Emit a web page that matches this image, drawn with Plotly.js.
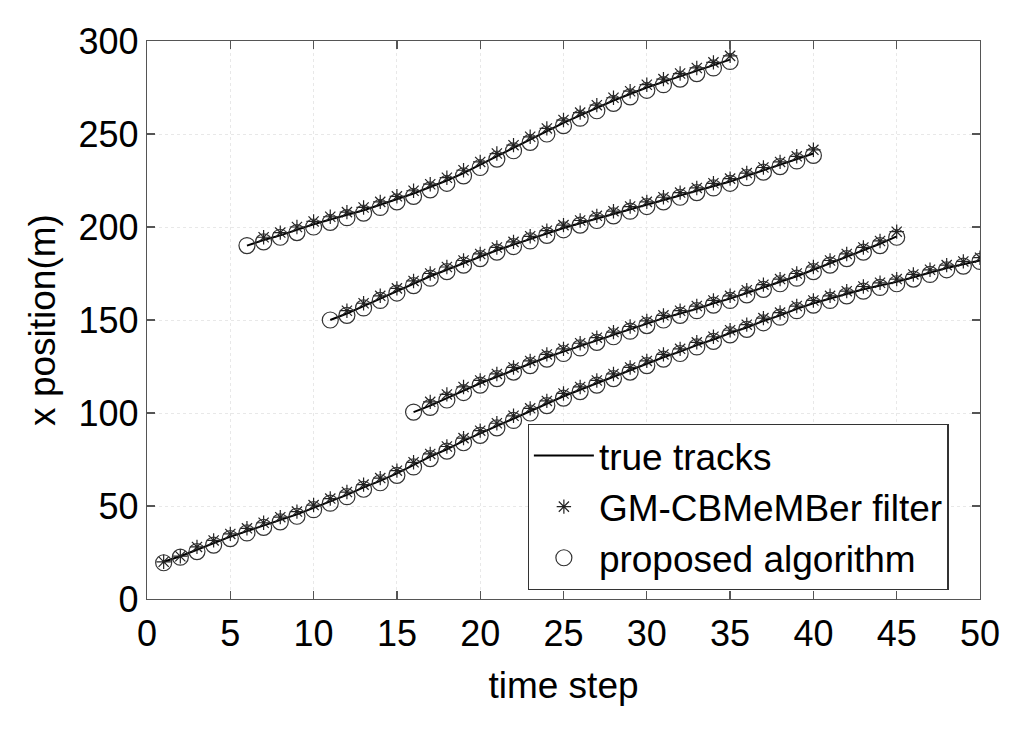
<!DOCTYPE html>
<html>
<head>
<meta charset="utf-8">
<script src="https://cdn.plot.ly/plotly-3.0.1.min.js"></script>
<style>html,body{margin:0;padding:0;background:#fff;}#chart{width:1024px;height:730px;}</style>
</head>
<body>
<div id="chart"></div>
<script>
// Track start times
const startA = 6, startB = 11, startC = 16, startD = 1;

// True tracks
const trueA = [190,193,195.5,198.5,201.5,204,206.5,209,212,215,218,221.5,225,229,233.5,238,242.5,247,251.5,256,260,264,268,271.5,275,278,281,284,287,290];
const trueB = [150,153.5,157.5,161.5,165.5,169.5,173.5,177,180.5,184,187.5,190.5,193.5,196.5,199.5,202,204.5,207,209.5,212,214.5,217,219.5,222,224.5,227.5,230.5,233.5,236.5,239.5];
const trueC = [100.5,104,108,112,116,119.5,123,126.5,130,133,136,139,142,145,148,151,153.5,156,159,161.5,164.5,167.5,170.5,173.5,177,180.5,184,187.5,191,195];
const trueD = [20,23,26.5,30,33.5,36.5,39.5,42.5,45.5,49,52.5,56,60,63.5,67.5,72,76.5,80.5,85,89,93,97,101,105,109,112.5,116,119.5,123,126.5,130,133,136.5,139.5,143,146,149.5,152.5,156,159,161.5,164,166.5,168.5,170.5,173,175.5,178,180,182];

// GM-CBMeMBer filter estimates (A, B, C start one step after track birth)
const starStartA = 7, starStartB = 12, starStartC = 17, starStartD = 1;
const starA = [194.5,197,200,203,205.5,208,210.5,213.5,216.5,219.5,223,226.5,230.5,235,239.5,244,248.5,253,257.5,261.5,265.5,269.5,273,276.5,279.5,282.5,285.5,288.5,292];
const starB = [155,159,163,167,171,175,178.5,182,185.5,189,192,195,198,201,203.5,206,208.5,211,213.5,216,218.5,221,223.5,226,229,232,235,238,241.5];
const starC = [106,110,114,117.5,121,124.5,128,131.5,134.5,137.5,140.5,143.5,146.5,149.5,152.5,155,157.5,160.5,163,166,169,172,175,178.5,182,185.5,189,192.5,197.5];
const starD = [20,23,28,31.5,35,38,41,44,47,50.5,54,57.5,61.5,65,69,73.5,78,82,86.5,90.5,94.5,98.5,102.5,106.5,110.5,114,117.5,121,124.5,128,131.5,134.5,138,141,144.5,147.5,151,154,157.5,160.5,163,165.5,168,170,172,174.5,177,179.5,181.5,183.5];

// Proposed algorithm estimates
const circA = [190,192,194.5,197,200,202.5,205,207.5,210.5,213.5,216.5,220,223.5,227.5,232,236.5,241,245.5,250,254.5,258.5,262.5,266.5,270,273.5,276.5,279.5,282.5,285.5,289];
const circB = [150,152.5,156.5,160.5,164.5,168.5,172.5,176,179.5,183,186.5,189.5,192.5,195.5,198.5,201,203.5,206,208.5,211,213.5,216,218.5,221,223.5,226.5,229.5,232.5,235.5,238.5];
const circC = [100.5,103,107,111,115,118.5,122,125.5,129,132,135,138,141,144,147,150,152.5,155,158,160.5,163.5,166.5,169.5,172.5,176,179.5,183,186.5,190,194.5];
const circD = [19.5,22.5,25.5,29,32.5,35.5,38.5,41.5,44.5,48,51.5,55,59,62.5,66.5,71,75.5,79.5,84,88,92,96,100,104,108,111.5,115,118.5,122,125.5,129,132,135.5,138.5,142,145,148.5,151.5,155,158,160.5,163,165.5,167.5,169.5,172,174.5,177,179,181.5];

const xTicks = [0,5,10,15,20,25,30,35,40,45,50];
const yTicks = [0,50,100,150,200,250,300];
const names = ['true tracks','GM-CBMeMBer filter','proposed algorithm'];

function join(list) {
  const x = [], y = [];
  list.forEach(([s, vals], i) => {
    if (i > 0) { x.push(null); y.push(null); }
    vals.forEach((v, k) => { x.push(s + k); y.push(v); });
  });
  return {x, y};
}

const T = join([[startA,trueA],[startB,trueB],[startC,trueC],[startD,trueD]]);
const S = join([[starStartA,starA],[starStartB,starB],[starStartC,starC],[starStartD,starD]]);
const C = join([[startA,circA],[startB,circB],[startC,circC],[startD,circD]]);

const FONT = 'Liberation Sans, Arial, sans-serif';

const traces = [
  {x:T.x, y:T.y, mode:'lines', name:names[0], connectgaps:false,
   line:{color:'#000', width:2}},
  {x:S.x, y:S.y, mode:'markers', name:names[1],
   marker:{symbol:'asterisk-open', size:12, line:{color:'#222', width:1.2}, color:'#222'}},
  {x:C.x, y:C.y, mode:'markers', name:names[2],
   marker:{symbol:'circle-open', size:16, line:{color:'#333', width:1.2}, color:'#333'}}
];

const axisCommon = {
  showline:true, linecolor:'#555', linewidth:1.3, mirror:'ticks',
  ticks:'inside', ticklen:8, tickcolor:'#555', tickwidth:1.3,
  showgrid:true, gridcolor:'#e8e8e8', griddash:'dot', gridwidth:1,
  zeroline:false, tickfont:{size:36, color:'#000', family:FONT}
};

const layout = {
  width:1024, height:730,
  margin:{l:147, r:44, t:41, b:131},
  paper_bgcolor:'#fff', plot_bgcolor:'#fff',
  font:{family:FONT, color:'#000'},
  showlegend:true,
  xaxis:Object.assign({}, axisCommon, {range:[0,50], tickvals:xTicks, ticktext:xTicks.map(String),
    ticklabelstandoff:2,
    title:{text:'time step', font:{size:37}, standoff:19}}),
  yaxis:Object.assign({}, axisCommon, {range:[0,300], tickvals:yTicks, ticktext:yTicks.map(String),
    title:{text:'x position(m)', font:{size:37}, standoff:11}}),
  legend:{x:0.457, y:0.314, xanchor:'left', yanchor:'top', bgcolor:'#fff',
    bordercolor:'#333', borderwidth:1.2, font:{size:37, color:'#000', family:FONT}, itemwidth:60}
};

Plotly.newPlot('chart', traces, layout, {displayModeBar:false, staticPlot:true});
</script>
</body>
</html>
